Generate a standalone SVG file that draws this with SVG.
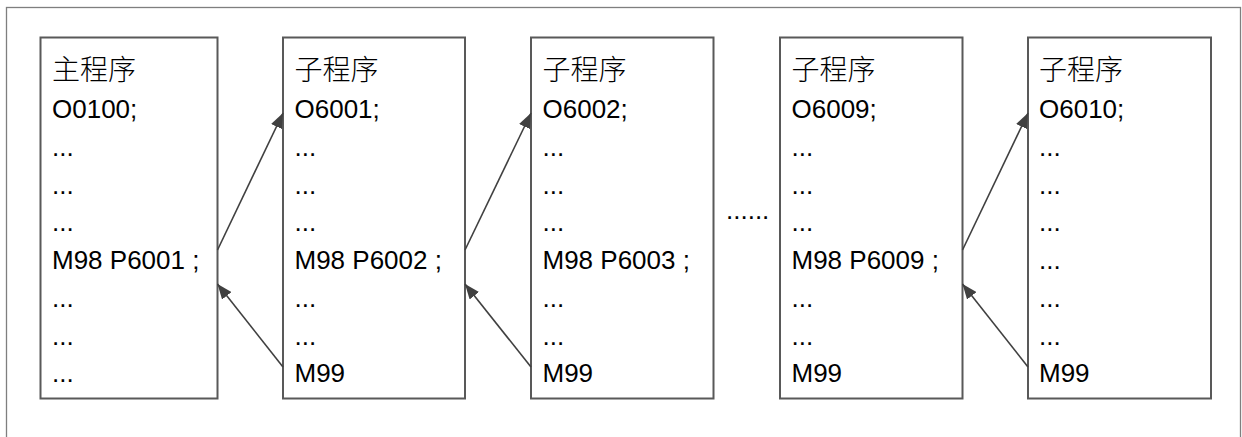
<svg xmlns="http://www.w3.org/2000/svg" width="1242" height="437" viewBox="0 0 1242 437">
<style>
.frame{fill:#fff;stroke:#7f7f7f;stroke-width:1.3}
.box{fill:#fff;stroke:#595959;stroke-width:2}
.t{font-family:"Liberation Sans",Arial,sans-serif;font-size:26px;fill:#000}
.cn{font-family:"Noto Sans CJK SC","Liberation Sans",sans-serif;font-size:28px;font-weight:300;fill:#000}
.con{stroke:#404040;stroke-width:1.6;fill:none;marker-end:url(#ah)}
</style>
<defs>
<marker id="ah" markerUnits="userSpaceOnUse" markerWidth="16" markerHeight="12" refX="15" refY="6" orient="auto">
<path d="M0,0 L15,6 L0,12 Z" fill="#404040"/>
</marker>
</defs>
<rect class="frame" x="6.5" y="7.5" width="1234" height="440"/>

<g id="main">
<rect class="box" x="40.5" y="37.5" width="177" height="361"/>
<text class="cn" x="52" y="80">主程序</text>
<text class="t" x="52" y="118">O0100;</text>
<text class="t" x="52" y="155.75">...</text>
<text class="t" x="52" y="193.5">...</text>
<text class="t" x="52" y="231.25">...</text>
<text class="t" x="52" y="269">M98 P6001 ;</text>
<text class="t" x="52" y="306.75">...</text>
<text class="t" x="52" y="344.5">...</text>
<text class="t" x="52" y="382.25">...</text>
</g>

<g id="sub6001">
<rect class="box" x="283" y="37.5" width="182" height="361"/>
<text class="cn" x="294.5" y="80">子程序</text>
<text class="t" x="294.5" y="118">O6001;</text>
<text class="t" x="294.5" y="155.75">...</text>
<text class="t" x="294.5" y="193.5">...</text>
<text class="t" x="294.5" y="231.25">...</text>
<text class="t" x="294.5" y="269">M98 P6002 ;</text>
<text class="t" x="294.5" y="306.75">...</text>
<text class="t" x="294.5" y="344.5">...</text>
<text class="t" x="294.5" y="382.25">M99</text>
</g>

<g id="sub6002">
<rect class="box" x="531" y="37.5" width="182.5" height="361"/>
<text class="cn" x="542.5" y="80">子程序</text>
<text class="t" x="542.5" y="118">O6002;</text>
<text class="t" x="542.5" y="155.75">...</text>
<text class="t" x="542.5" y="193.5">...</text>
<text class="t" x="542.5" y="231.25">...</text>
<text class="t" x="542.5" y="269">M98 P6003 ;</text>
<text class="t" x="542.5" y="306.75">...</text>
<text class="t" x="542.5" y="344.5">...</text>
<text class="t" x="542.5" y="382.25">M99</text>
</g>

<g id="gap">
<text class="t" x="726" y="219">......</text>
</g>

<g id="sub6009">
<rect class="box" x="780" y="37.5" width="182.5" height="361"/>
<text class="cn" x="791.5" y="80">子程序</text>
<text class="t" x="791.5" y="118">O6009;</text>
<text class="t" x="791.5" y="155.75">...</text>
<text class="t" x="791.5" y="193.5">...</text>
<text class="t" x="791.5" y="231.25">...</text>
<text class="t" x="791.5" y="269">M98 P6009 ;</text>
<text class="t" x="791.5" y="306.75">...</text>
<text class="t" x="791.5" y="344.5">...</text>
<text class="t" x="791.5" y="382.25">M99</text>
</g>

<g id="sub6010">
<rect class="box" x="1028" y="37.5" width="183" height="361"/>
<text class="cn" x="1039" y="80">子程序</text>
<text class="t" x="1039" y="118">O6010;</text>
<text class="t" x="1039" y="155.75">...</text>
<text class="t" x="1039" y="193.5">...</text>
<text class="t" x="1039" y="231.25">...</text>
<text class="t" x="1039" y="269">...</text>
<text class="t" x="1039" y="306.75">...</text>
<text class="t" x="1039" y="344.5">...</text>
<text class="t" x="1039" y="382.25">M99</text>
</g>

<g id="connectors">
<line class="con" x1="217.5" y1="250" x2="283" y2="113"/>
<line class="con" x1="283" y1="367" x2="217.5" y2="284"/>
<line class="con" x1="465" y1="250" x2="531" y2="113"/>
<line class="con" x1="531" y1="367" x2="465" y2="284"/>
<line class="con" x1="962.5" y1="250" x2="1028" y2="113"/>
<line class="con" x1="1028" y1="367" x2="962.5" y2="284"/>
</g>
</svg>
